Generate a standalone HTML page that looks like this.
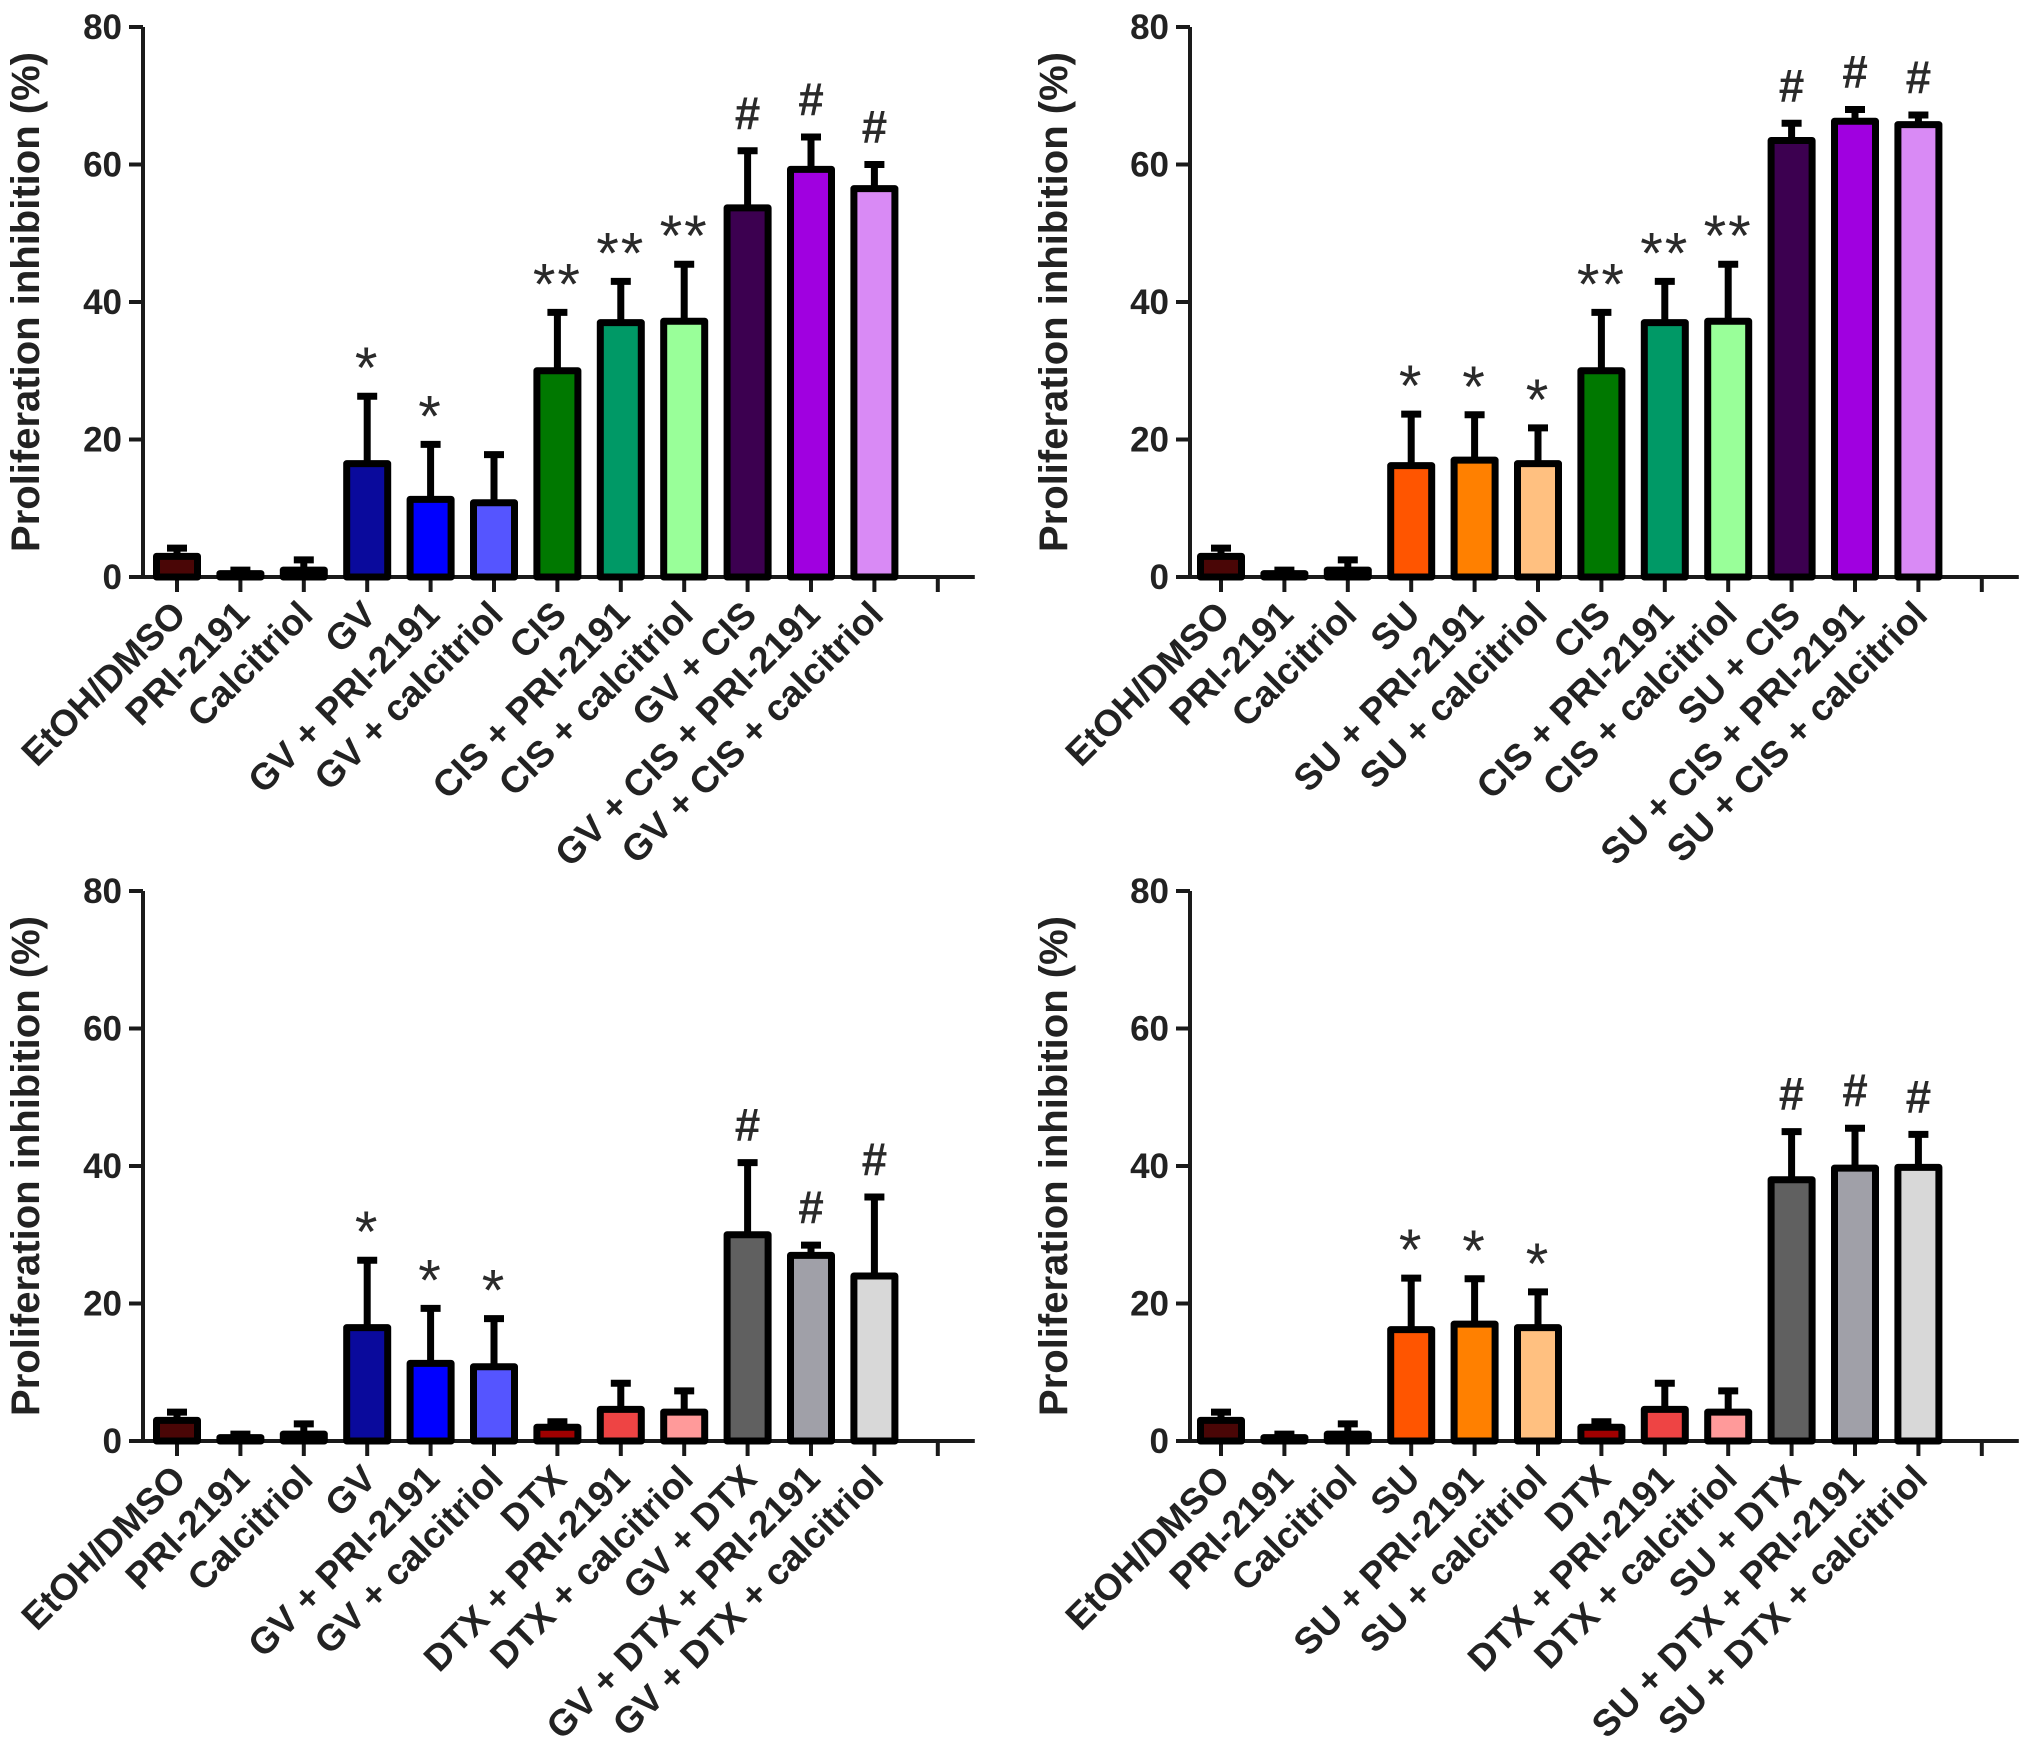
<!DOCTYPE html>
<html><head><meta charset="utf-8"><style>
html,body{margin:0;padding:0;background:#fff;}
svg{display:block;}
text{font-family:"Liberation Sans",Arial,sans-serif;}
</style></head><body>
<svg id="chart" width="2031" height="1762" viewBox="0 0 2031 1762" xmlns="http://www.w3.org/2000/svg"></svg>
<script>
// ---- Data ----
const catsP1 = ["EtOH/DMSO","PRI-2191","Calcitriol","GV","GV + PRI-2191","GV + calcitriol","CIS","CIS + PRI-2191","CIS + calcitriol","GV + CIS","GV + CIS + PRI-2191","GV + CIS + calcitriol"];
const catsP2 = ["EtOH/DMSO","PRI-2191","Calcitriol","SU","SU + PRI-2191","SU + calcitriol","CIS","CIS + PRI-2191","CIS + calcitriol","SU + CIS","SU + CIS + PRI-2191","SU + CIS + calcitriol"];
const catsP3 = ["EtOH/DMSO","PRI-2191","Calcitriol","GV","GV + PRI-2191","GV + calcitriol","DTX","DTX + PRI-2191","DTX + calcitriol","GV + DTX","GV + DTX + PRI-2191","GV + DTX + calcitriol"];
const catsP4 = ["EtOH/DMSO","PRI-2191","Calcitriol","SU","SU + PRI-2191","SU + calcitriol","DTX","DTX + PRI-2191","DTX + calcitriol","SU + DTX","SU + DTX + PRI-2191","SU + DTX + calcitriol"];

const meanP1 = [3,0.5,1,16.5,11.3,10.8,30,37,37.2,53.7,59.3,56.5];
const errP1  = [4.2,1,2.5,26.3,19.3,17.8,38.5,43,45.5,62,64,60];
const meanP2 = [3,0.5,1,16.2,17,16.5,30,37,37.2,63.5,66.3,65.8];
const errP2  = [4.2,1,2.5,23.7,23.6,21.7,38.5,43,45.5,66,68,67.2];
const meanP3 = [3,0.5,1,16.5,11.3,10.8,2,4.6,4.2,30,27,24];
const errP3  = [4.2,1,2.5,26.3,19.3,17.8,2.8,8.4,7.3,40.5,28.5,35.5];
const meanP4 = [3,0.5,1,16.2,17,16.5,2,4.6,4.2,38,39.7,39.8];
const errP4  = [4.2,1,2.5,23.7,23.6,21.7,2.8,8.4,7.3,45,45.5,44.6];

const sigP1 = ["","","","*","*","","**","**","**","#","#","#"];
const sigP2 = ["","","","*","*","*","**","**","**","#","#","#"];
const sigP3 = ["","","","*","*","*","","","","#","#","#"];
const sigP4 = ["","","","*","*","*","","","","#","#","#"];

const yTicks = [0,20,40,60,80];

const colP1 = ["#4a0606","#1a0505","#1a0505","#0a0a9c","#0000ff","#5555ff","#007800","#009966","#99ff99","#3c0050","#a000e0","#d98af5"];
const colP2 = ["#4a0606","#1a0505","#1a0505","#ff5500","#ff8000","#ffc080","#007800","#009966","#99ff99","#3c0050","#a000e0","#d98af5"];
const colP3 = ["#4a0606","#1a0505","#1a0505","#0a0a9c","#0000ff","#5555ff","#a00000","#ee4444","#ff9a9a","#606060","#a0a0a8","#d8d8d8"];
const colP4 = ["#4a0606","#1a0505","#1a0505","#ff5500","#ff8000","#ffc080","#a00000","#ee4444","#ff9a9a","#606060","#a0a0a8","#d8d8d8"];

const NS = "http://www.w3.org/2000/svg";
const svg = document.getElementById('chart');
function mk(tag, attrs, parent){
  const e = document.createElementNS(NS, tag);
  for (const k in attrs) e.setAttribute(k, attrs[k]);
  parent.appendChild(e); return e;
}

function panel(name, axisX, tick0, y0, labelX, cats, means, errs, sigs, cols){
  const g = mk('g', {}, svg);
  
  
  const top = y0 - 550;
  const yS = v => y0 - v * (550/80);
  const xS = i => tick0 + i * 63.4;
  const ya = mk('line', {x1:axisX, y1:top, x2:axisX, y2:y0, stroke:'#1a1a1a','stroke-width':4}, g);
  
  
  yTicks.forEach(t => {
    const ty = yS(t);
    const tl = mk('line', {x1:axisX-14, y1:ty, x2:axisX, y2:ty, stroke:'#1a1a1a','stroke-width':4}, g);
    
    
    const tx = mk('text', {x:axisX-21, y:ty+12, 'text-anchor':'end', 'font-size':35, 'font-weight':'bold', fill:'#222'}, g);
    tx.textContent = t;
    
    
  });
  const yt = mk('text', {x:0, y:0, 'text-anchor':'middle', 'font-size':40, 'font-weight':'bold', fill:'#222', transform:`translate(${labelX},${(top+y0)/2}) rotate(-90)`}, g);
  yt.textContent = 'Proliferation inhibition (%)';
  
  
  const xa = mk('line', {x1:axisX-13, y1:y0, x2:xS(12)+37, y2:y0, stroke:'#1a1a1a','stroke-width':4}, g);
  
  
  for (let i=0;i<13;i++){
    const tk = mk('line', {x1:xS(i), y1:y0, x2:xS(i), y2:y0+15, stroke:'#1a1a1a','stroke-width':4}, g);
    
    
  }
  cats.forEach((c,i) => {
    const cx = xS(i);
    const yv = yS(means[i]), ye = yS(errs[i]);
    const el = mk('line', {x1:cx, y1:yv, x2:cx, y2:ye, stroke:'#000','stroke-width':7}, g);
    
    
    const ec = mk('line', {x1:cx-10, y1:ye, x2:cx+10, y2:ye, stroke:'#000','stroke-width':7}, g);
    
    
    const h = Math.max(y0 - yv, 0.5);
    const r = mk('rect', {x:cx-20.5, y:y0-h, width:41, height:h, fill:cols[i], stroke:'#000','stroke-width':7,'stroke-linejoin':'round'}, g);
    
    
    if (sigs[i]){
      const isHash = sigs[i]==='#';
      const s = mk('text', {x:cx, y:ye-(isHash?22:8), 'text-anchor':'middle', 'font-size':isHash?46:58, 'font-weight':isHash?'bold':'normal', fill:'#2a2a2a', 'letter-spacing':isHash?0:2}, g);
      s.textContent = sigs[i];
      
      
    }
    const lx = cx + 11, ly = y0 + 40;
    const lt = mk('text', {x:0, y:0, 'text-anchor':'end', 'font-size':37, 'font-weight':'bold', fill:'#222', transform:`translate(${lx},${ly}) rotate(-45)`}, g);
    lt.textContent = c;
    
    
  });
}

panel('panel-gv-cis', 143, 177, 577, 39, catsP1, meanP1, errP1, sigP1, colP1);
panel('panel-su-cis', 1190, 1221, 577, 1067, catsP2, meanP2, errP2, sigP2, colP2);
panel('panel-gv-dtx', 143, 177, 1441, 39, catsP3, meanP3, errP3, sigP3, colP3);
panel('panel-su-dtx', 1190, 1221, 1441, 1067, catsP4, meanP4, errP4, sigP4, colP4);
</script>
</body></html>
